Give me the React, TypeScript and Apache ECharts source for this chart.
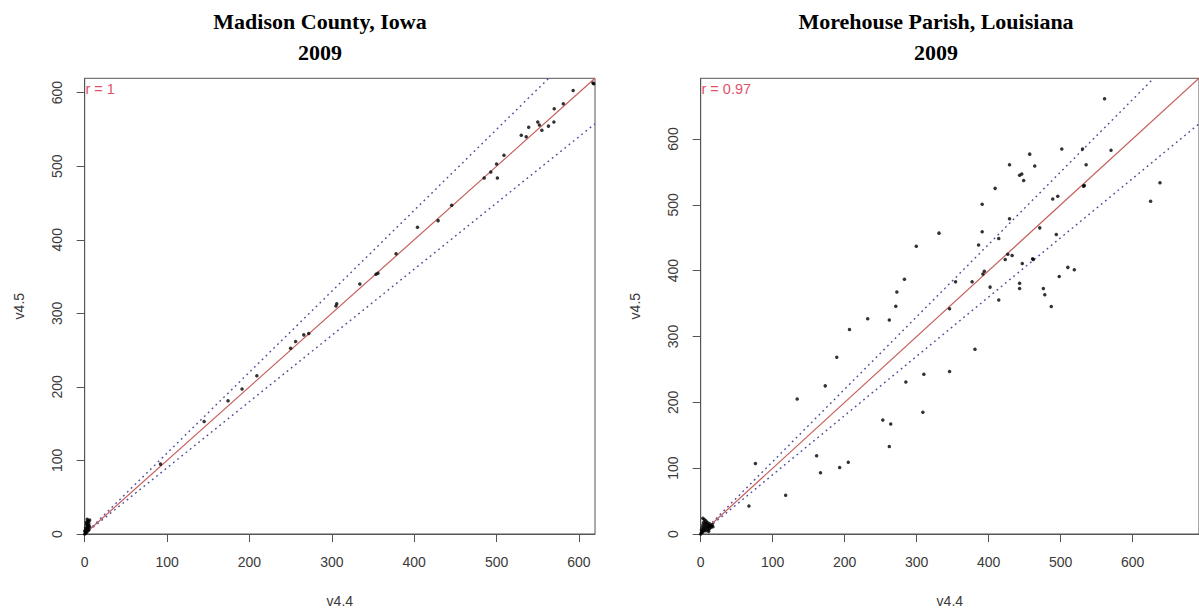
import React, { useEffect, useRef } from "react";
import * as echarts from "echarts";

// ---- Data ----
const leftTitle = "Madison County, Iowa";
const rightTitle = "Morehouse Parish, Louisiana";
const yearLabel = "2009";
const xName = "v4.4";
const yName = "v4.5";
const leftR = "r = 1";
const rightR = "r = 0.97";
const tickValues = [0, 100, 200, 300, 400, 500, 600];
const leftMax = 619.5;
const rightMax = 692.2;

// Madison County points [v4.4, v4.5]
const leftPoints: number[][] = [
  [617, 613], [618, 612], [593, 603], [581, 585], [570, 578], [569.6, 560],
  [563, 554.5], [555, 549], [552, 556], [550, 560], [539, 553], [530, 542],
  [536, 540], [509, 515], [500, 503], [493, 492], [501, 484], [485, 484],
  [445.5, 447], [429, 426], [404, 417], [378, 381], [356, 354.5], [353.6, 353],
  [334, 340], [306, 313], [305, 310], [272, 272.6], [266, 270.7], [256, 261.7],
  [250, 252.6], [209, 215], [191, 197], [174, 181], [145, 153], [92, 95],
];
const leftCluster: number[][] = [
  [0, 0], [1, 1], [1, 3], [2, 2], [2, 5], [3, 7], [3, 10], [4, 12], [4, 4],
  [5, 14], [5, 17], [6, 19], [2, 13], [3, 15], [1, 8], [0, 4], [6, 10],
  [4, 8], [5, 6], [2, 16], [4, 18], [3, 20], [5, 11],
];

// Morehouse Parish points [v4.4, v4.5]
const rightPoints: number[][] = [
  [561, 661], [501.6, 584.8], [530.4, 584.8], [570, 583], [457, 577], [429, 561],
  [464, 559], [535.4, 561], [443, 545], [446, 546.7], [448.6, 537], [409, 525],
  [531.8, 528.4], [533, 529.4], [638, 533.5], [625, 505.5], [489, 509], [496, 513],
  [391, 501], [429, 479], [471, 465], [391, 459], [331, 457], [414, 449],
  [494, 455], [386, 439], [299.5, 437], [426.6, 425], [432.6, 423], [423, 417],
  [461, 418], [462, 417], [446.7, 411], [394, 399], [392, 395], [510, 405],
  [519, 401.5], [498, 391], [283, 387], [354, 383], [377, 383], [443, 381],
  [443, 373], [402, 375], [476, 373], [478, 363.5], [272.5, 367.5], [414, 355.5],
  [487, 345.5], [271, 346], [345.7, 342], [232, 327], [262, 325], [206.7, 310.7],
  [189, 268.5], [381, 280.7], [173, 225], [285, 231], [310, 242.6], [345.7, 246.7],
  [134, 205], [253, 173], [264, 167], [308.6, 184.8], [262, 133], [161, 118.8],
  [76, 107], [205, 109], [193, 101], [166.4, 93], [118, 59], [67, 42.6],
];
const rightCluster: number[][] = [
  [0, 0], [1, 2], [2, 4], [3, 3], [4, 8], [5, 6], [6, 10], [7, 5], [8, 12],
  [9, 9], [10, 14], [11, 11], [12, 8], [13, 13], [14, 10], [15, 12], [3, 14],
  [4, 18], [5, 22], [6, 16], [2, 10], [8, 16], [10, 6], [16, 14], [7, 20],
  [9, 18], [12, 16], [5, 12], [1, 6], [3, 24], [11, 4], [17, 11],
];

// Reference lines (identity and +/-10% bands) as endpoint pairs
const leftIdentity = [[0, 0], [619.5, 619.5]];
const leftUpper = [[0, 0], [563.2, 619.5]];
const leftLower = [[0, 0], [619.5, 557.6]];
const rightIdentity = [[0, 0], [692.2, 692.2]];
const rightUpper = [[0, 0], [629.3, 692.2]];
const rightLower = [[0, 0], [692.2, 623]];

const LABEL_COLOR = "#3a3a3a";
const LINE_COLOR = "#555555";
const DOT_COLOR = "#4d4d9c";
const FIT_COLOR = "#c65f5c";
const R_COLOR = "#DF536B";

function makeAxis(idx: number, max: number, isX: boolean) {
  return {
    type: "value",
    gridIndex: idx,
    min: 0,
    max,
    name: isX ? xName : yName,
    nameLocation: "middle",
    nameGap: isX ? 60 : 59,
    nameTextStyle: { color: LABEL_COLOR, fontSize: 14, fontFamily: "Liberation Sans" },
    axisLine: { show: true, lineStyle: { color: LINE_COLOR, width: 1 } },
    axisTick: {
      show: true,
      length: 8,
      customValues: tickValues,
      lineStyle: { color: LINE_COLOR, width: 1 },
    },
    axisLabel: {
      show: true,
      customValues: tickValues,
      rotate: isX ? 0 : 90,
      margin: 21,
      color: LABEL_COLOR,
      fontSize: 14,
      fontFamily: "Liberation Sans",
    },
    splitLine: { show: false },
  };
}

function lineSeries(idx: number, data: number[][], color: string, dotted: boolean) {
  return {
    type: "line",
    xAxisIndex: idx,
    yAxisIndex: idx,
    data,
    symbol: "none",
    clip: true,
    silent: true,
    lineStyle: { color, width: dotted ? 1.4 : 1.2, type: dotted ? [1.8, 3.6] : "solid" },
    z: 1,
  };
}

function scatterSeries(idx: number, data: number[][]) {
  return {
    type: "scatter",
    xAxisIndex: idx,
    yAxisIndex: idx,
    data,
    symbol: "circle",
    symbolSize: 3.5,
    itemStyle: { color: "#000000" },
    z: 3,
  };
}

export default function App() {
  const ref = useRef<HTMLDivElement>(null);
  useEffect(() => {
    if (!ref.current) return;
    const chart = echarts.init(ref.current, undefined, { renderer: "svg" });
    const titleStyle = {
      fontSize: 22,
      fontWeight: "bold",
      fontFamily: "Liberation Serif",
      fill: "#000000",
      textAlign: "center",
      textVerticalAlign: "middle",
    };
    chart.setOption({
      animation: false,
      backgroundColor: "#ffffff",
      grid: [
        { left: 84.7, top: 78.3, width: 510.3, height: 455.7, show: true, borderColor: LINE_COLOR, borderWidth: 1, backgroundColor: "transparent" },
        { left: 700.7, top: 78.3, width: 510.3, height: 455.7, show: true, borderColor: LINE_COLOR, borderWidth: 1, backgroundColor: "transparent" },
      ],
      xAxis: [makeAxis(0, leftMax, true), makeAxis(1, rightMax, true)],
      yAxis: [makeAxis(0, leftMax, false), makeAxis(1, rightMax, false)],
      series: [
        lineSeries(0, leftUpper, DOT_COLOR, true),
        lineSeries(0, leftLower, DOT_COLOR, true),
        lineSeries(0, leftIdentity, FIT_COLOR, false),
        scatterSeries(0, leftPoints.concat(leftCluster)),
        lineSeries(1, rightUpper, DOT_COLOR, true),
        lineSeries(1, rightLower, DOT_COLOR, true),
        lineSeries(1, rightIdentity, FIT_COLOR, false),
        scatterSeries(1, rightPoints.concat(rightCluster)),
      ],
      graphic: [
        { type: "text", x: 320, y: 21.5, style: { ...titleStyle, text: leftTitle } },
        { type: "text", x: 320, y: 52, style: { ...titleStyle, text: yearLabel } },
        { type: "text", x: 936, y: 21.5, style: { ...titleStyle, text: rightTitle } },
        { type: "text", x: 936, y: 52, style: { ...titleStyle, text: yearLabel } },
        {
          type: "text", x: 85.5, y: 88.5, z: 10,
          style: { text: leftR, fill: R_COLOR, fontSize: 14.5, fontFamily: "Liberation Sans", textVerticalAlign: "middle" },
        },
        {
          type: "text", x: 701.5, y: 88.5, z: 10,
          style: { text: rightR, fill: R_COLOR, fontSize: 14.5, fontFamily: "Liberation Sans", textVerticalAlign: "middle" },
        },
      ],
    });
    return () => chart.dispose();
  }, []);
  return (
    <div
      ref={ref}
      style={{ position: "fixed", left: 0, top: 0, width: 1199, height: 613, background: "#ffffff" }}
    />
  );
}
